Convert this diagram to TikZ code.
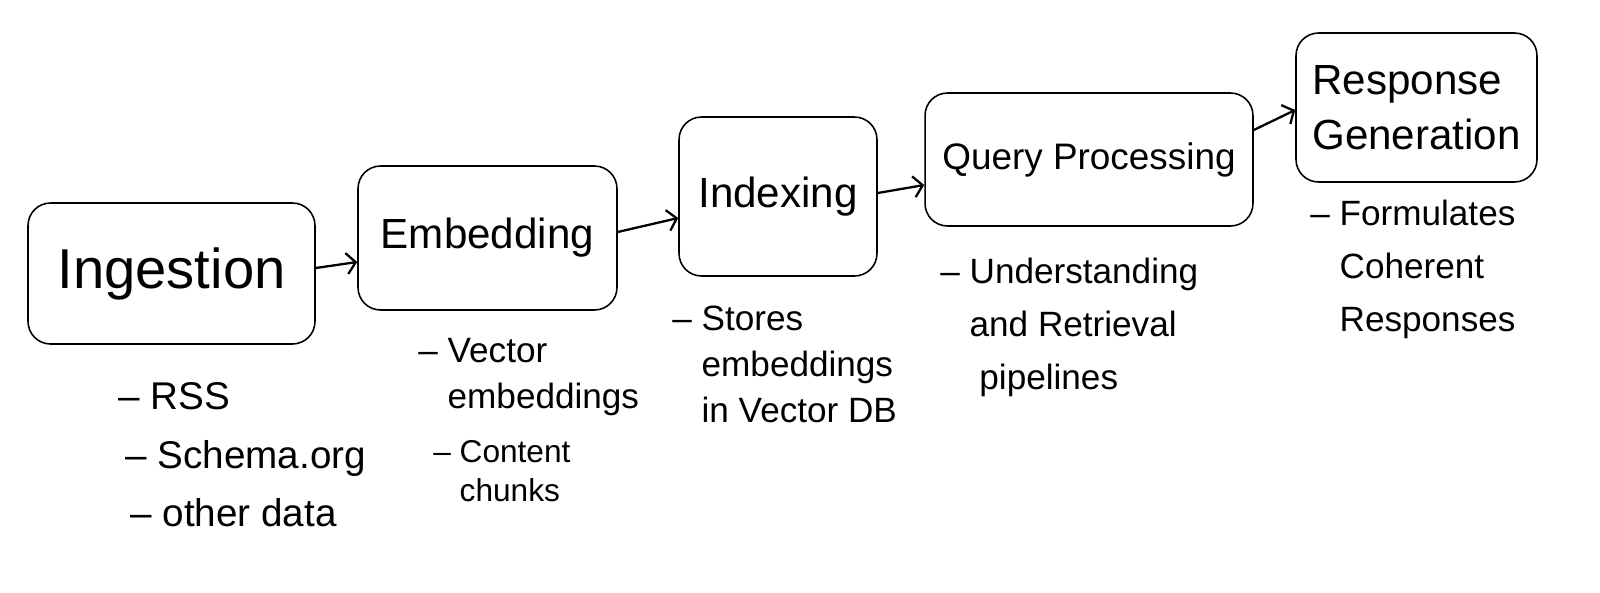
\documentclass[tikz,border=0pt]{standalone}
\usepackage{fontspec}
\setmainfont{Liberation Sans}
\usetikzlibrary{arrows.meta}

\begin{document}
\begin{tikzpicture}[x=0.02cm, y=-0.02cm,
    stage/.style={draw, line width=0.9pt, rounded corners=0.45cm, align=center, font=\fontsize{24}{31}\selectfont},
    note/.style={anchor=north west, inner sep=0pt, align=left, font=\fontsize{20}{26}\selectfont},
    flow/.style={line width=1.3pt, -{Straight Barb[length=0.18cm, width=0.42cm]}}]
    \useasboundingbox (0,0) rectangle (1600,592);
    % pipeline stages
    \node[stage, minimum width=5.74cm, minimum height=2.82cm, font=\fontsize{32}{36}\selectfont] (ingest) at (171.5,273.5) {Ingestion};
    \node[stage, minimum width=5.18cm, minimum height=2.88cm] (embed) at (487.5,238) {Embedding};
    \node[stage, minimum width=3.96cm, minimum height=3.18cm] (index) at (778,196.5) {Indexing};
    \node[stage, minimum width=6.56cm, minimum height=2.66cm, font=\fontsize{21}{26}\selectfont] (query) at (1089,159.5) {Query Processing};
    \node[stage, minimum width=4.82cm, minimum height=2.98cm, align=left] (resp) at (1416.5,107.5) {Response\\Generation};
    % connectors
    \draw[flow] ([yshift=0.11cm]ingest.east) -- ([yshift=-0.48cm]embed.west);
    \draw[flow] ([yshift=0.12cm]embed.east) -- ([yshift=-0.43cm]index.west);
    \draw[flow] ([yshift=0.07cm]index.east) -- ([yshift=-0.51cm]query.west);
    \draw[flow] ([yshift=0.59cm]query.east) -- ([yshift=-0.05cm]resp.west);
    % notes
    \node[note, font=\fontsize{22}{28}\selectfont] (rss) at (118,382) {– RSS};
    \node[note, font=\fontsize{22}{28}\selectfont] (schema) at (125,440) {– Schema.org};
    \node[note, font=\fontsize{22}{28}\selectfont] (other) at (130,498) {– other data};
    \node[note] (vector) at (418,338) {– Vector\\\hphantom{–}\ embeddings};
    \node[note, font=\fontsize{18}{22}\selectfont] (chunks) at (433,440) {– Content\\\hphantom{–}\ chunks};
    \node[note] (stores) at (672,306) {– Stores\\\hphantom{–}\ embeddings\\\hphantom{–}\ in Vector DB};
    \node[note, font=\fontsize{20}{30}\selectfont] (pipes) at (940,258) {– Understanding\\\hphantom{–}\ and Retrieval\\\hphantom{–}\ \ pipelines};
    \node[note, font=\fontsize{20}{30}\selectfont] (formulates) at (1310,200) {– Formulates\\\hphantom{–}\ Coherent\\\hphantom{–}\ Responses};
\end{tikzpicture}
\end{document}
